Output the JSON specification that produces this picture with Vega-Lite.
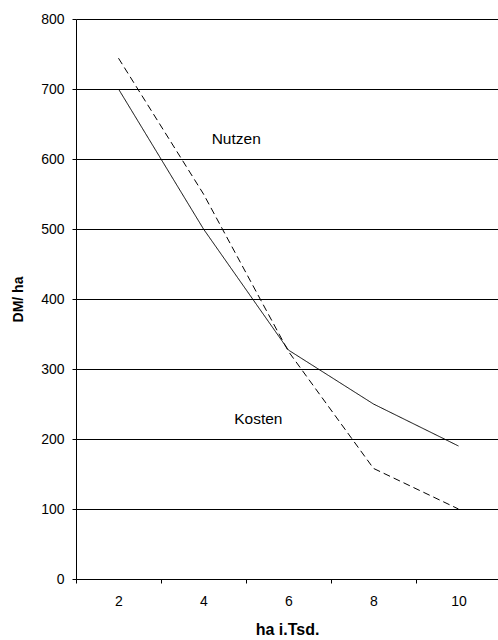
{
  "$schema": "https://vega.github.io/schema/vega-lite/v6.json",
  "width": 422,
  "height": 560,
  "autosize": "none",
  "padding": {"left": 76, "top": 19, "right": 0, "bottom": 61},
  "background": "white",
  "config": {
    "view": {"stroke": null},
    "font": "Liberation Sans",
    "axis": {"labelFont": "Liberation Sans", "titleFont": "Liberation Sans", "labelColor": "black", "titleColor": "black"}
  },
  "datasets": {
    "lines": [
      {"x": 2, "y": 700, "serie": "Nutzen"},
      {"x": 4, "y": 500, "serie": "Nutzen"},
      {"x": 6, "y": 327, "serie": "Nutzen"},
      {"x": 8, "y": 250, "serie": "Nutzen"},
      {"x": 10, "y": 190, "serie": "Nutzen"},
      {"x": 2, "y": 744, "serie": "Kosten"},
      {"x": 4, "y": 550, "serie": "Kosten"},
      {"x": 6, "y": 325, "serie": "Kosten"},
      {"x": 8, "y": 158, "serie": "Kosten"},
      {"x": 10, "y": 100, "serie": "Kosten"}
    ],
    "labels": [
      {"x": 4.77, "y": 629, "text": "Nutzen"},
      {"x": 5.29, "y": 229, "text": "Kosten"}
    ]
  },
  "layer": [
    {
      "data": {"name": "lines"},
      "mark": {"type": "line", "color": "black", "strokeWidth": 1},
      "encoding": {
        "x": {
          "field": "x",
          "type": "quantitative",
          "scale": {"domain": [1, 10.93], "nice": false, "zero": false},
          "axis": {
            "values": [1, 2, 3, 4, 5, 6, 7, 8, 9, 10],
            "labelExpr": "datum.value % 2 == 0 ? datum.label : ''",
            "tickOpacity": {"condition": {"test": "datum.value % 2 == 0", "value": 0}, "value": 1},
            "grid": false,
            "tickSize": 4,
            "tickColor": "black",
            "domainColor": "black",
            "labelFontSize": 14,
            "labelPadding": 11,
            "labelFlush": false,
            "title": "ha i.Tsd.",
            "titleFontSize": 16,
            "titleFontWeight": "bold",
            "titleBaseline": "top",
            "titleY": 42
          }
        },
        "y": {
          "field": "y",
          "type": "quantitative",
          "scale": {"domain": [0, 800], "nice": false},
          "axis": {
            "values": [0, 100, 200, 300, 400, 500, 600, 700, 800],
            "grid": true,
            "gridColor": "black",
            "gridOpacity": 1,
            "tickSize": 4,
            "tickColor": "black",
            "domainColor": "black",
            "labelFontSize": 14,
            "labelPadding": 8,
            "title": "DM/ ha",
            "titleFontSize": 14,
            "titleFontWeight": "bold",
            "titleBaseline": "middle",
            "titleX": -58
          }
        },
        "strokeDash": {
          "field": "serie",
          "type": "nominal",
          "scale": {"domain": ["Nutzen", "Kosten"], "range": [[1, 0], [7, 4]]},
          "legend": null
        }
      }
    },
    {
      "data": {"name": "labels"},
      "mark": {"type": "text", "fontSize": 15.5, "color": "black", "font": "Liberation Sans"},
      "encoding": {
        "x": {"field": "x", "type": "quantitative"},
        "y": {"field": "y", "type": "quantitative"},
        "text": {"field": "text"}
      }
    }
  ]
}
